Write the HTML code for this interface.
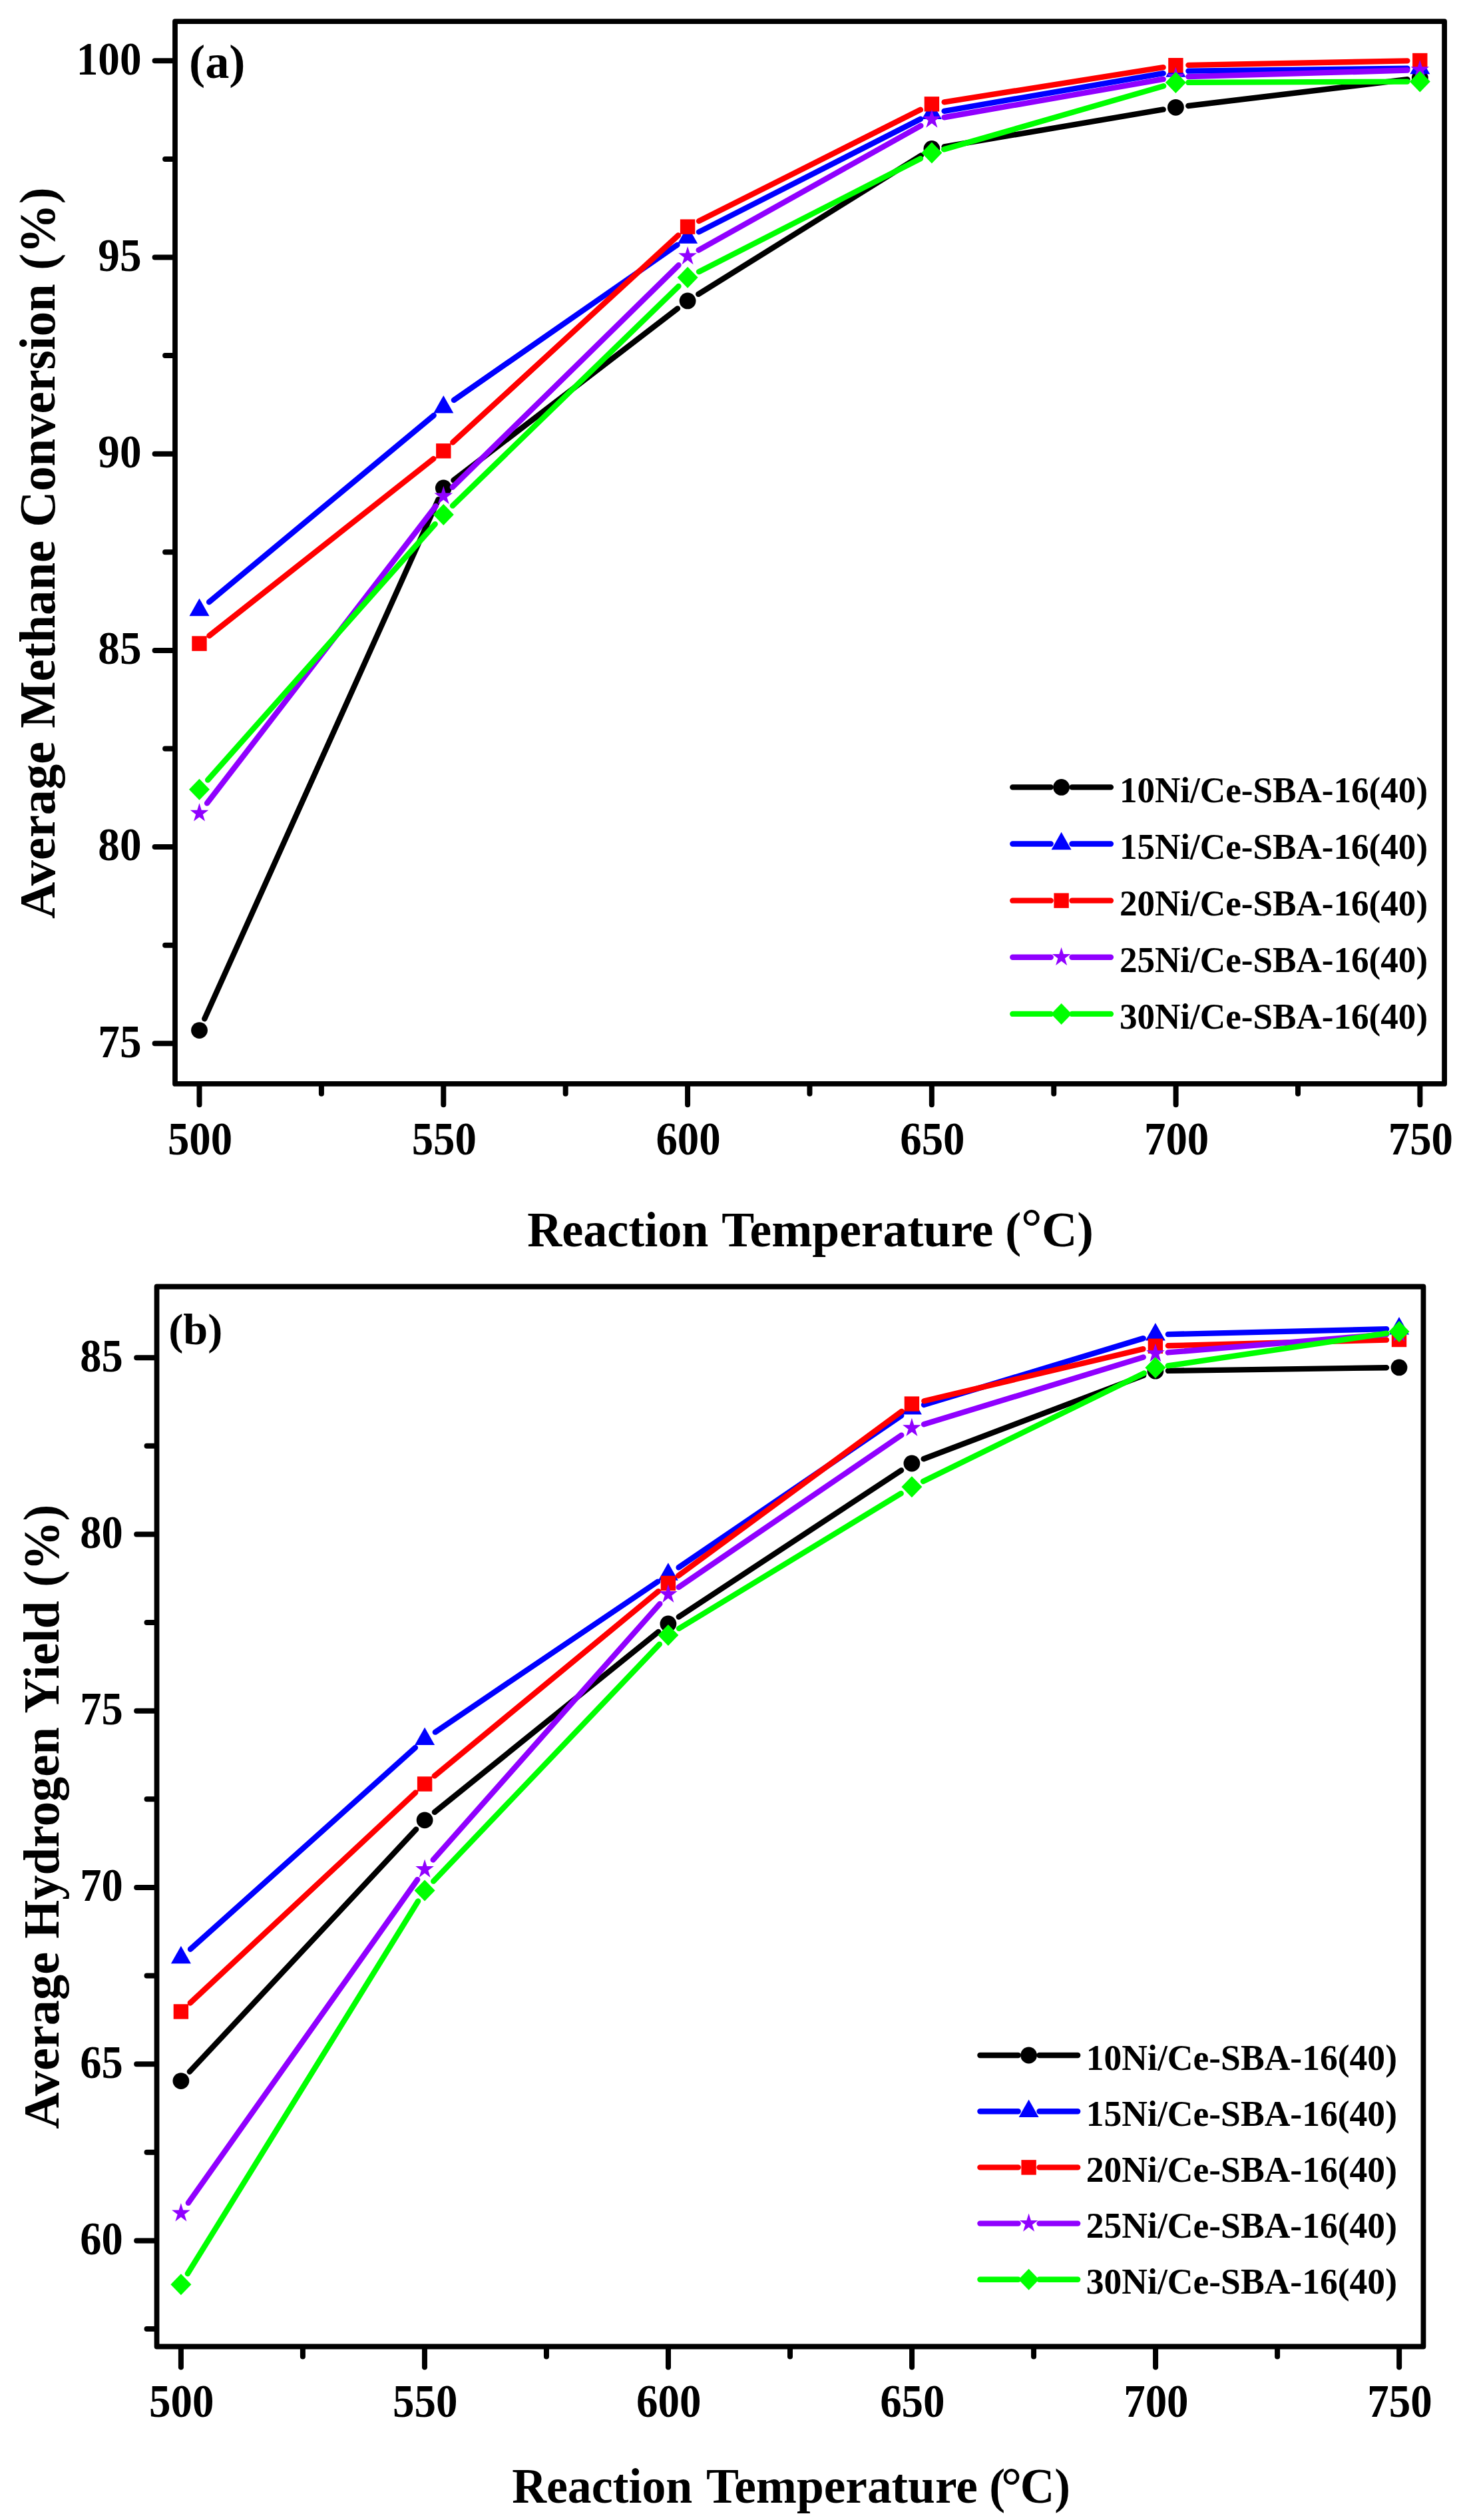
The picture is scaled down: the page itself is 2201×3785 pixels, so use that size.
<!DOCTYPE html>
<html lang="en">
<head>
<meta charset="utf-8">
<title>Average methane conversion and hydrogen yield vs reaction temperature</title>
<style>
html,body{margin:0;padding:0;background:#fff;}
body{width:2201px;height:3785px;overflow:hidden;}
svg{display:block;}
svg text{font-family:"Liberation Serif", "Times New Roman", serif;font-weight:bold;fill:#000;}
</style>
</head>
<body>
<svg width="2201" height="3785" viewBox="0 0 2201 3785">
<rect x="0" y="0" width="2201" height="3785" fill="#ffffff"/>
<g>
<path d="M307.3 1530.27L658.5 750.23M681.38 721.35L1018.02 463.45M1049.23 441.86L1383.77 233.54M1418.63 220.32L1747.67 164.48M1785.26 159.02L2114.44 119.28" fill="none" stroke="#000000" stroke-width="8.4" stroke-linecap="round"/>
<circle cx="299.5" cy="1547.6" r="12.4" fill="#000000"/>
<circle cx="666.3" cy="732.9" r="12.4" fill="#000000"/>
<circle cx="1033.1" cy="451.9" r="12.4" fill="#000000"/>
<circle cx="1399.9" cy="223.5" r="12.4" fill="#000000"/>
<circle cx="1766.4" cy="161.3" r="12.4" fill="#000000"/>
<circle cx="2133.3" cy="117" r="12.4" fill="#000000"/>
<path d="M314.12 904.26L651.68 623.94M681.9 600.96L1017.5 367.84M1050.03 348.37L1382.97 178.73M1418.62 166.87L1747.68 110.13M1785.4 106.67L2114.3 102.63" fill="none" stroke="#0000ff" stroke-width="8.4" stroke-linecap="round"/>
<polygon points="299.5,898.7 314.5,925.2 284.5,925.2" fill="#0000ff"/>
<polygon points="666.3,594.1 681.3,620.6 651.3,620.6" fill="#0000ff"/>
<polygon points="1033.1,339.3 1048.1,365.8 1018.1,365.8" fill="#0000ff"/>
<polygon points="1399.9,152.4 1414.9,178.9 1384.9,178.9" fill="#0000ff"/>
<polygon points="1766.4,89.2 1781.4,115.7 1751.4,115.7" fill="#0000ff"/>
<polygon points="2133.3,84.7 2148.3,111.2 2118.3,111.2" fill="#0000ff"/>
<path d="M314.42 954.83L651.38 689.07M680.3 664.45L1019.1 353.45M1050.08 332.07L1382.92 164.83M1418.67 153.33L1747.63 101.17M1785.4 97.83L2114.3 91.37" fill="none" stroke="#ff0000" stroke-width="8.4" stroke-linecap="round"/>
<rect x="288.3" y="955.4" width="22.4" height="22.4" fill="#ff0000"/>
<rect x="655.1" y="666.1" width="22.4" height="22.4" fill="#ff0000"/>
<rect x="1021.9" y="329.4" width="22.4" height="22.4" fill="#ff0000"/>
<rect x="1388.7" y="145.1" width="22.4" height="22.4" fill="#ff0000"/>
<rect x="1755.2" y="87" width="22.4" height="22.4" fill="#ff0000"/>
<rect x="2122.1" y="79.8" width="22.4" height="22.4" fill="#ff0000"/>
<path d="M311.09 1206.35L654.71 760.15M679.86 731.79L1019.54 398.31M1049.68 375.71L1383.32 188.79M1418.62 176.24L1747.68 118.96M1785.39 115.15L2114.31 105.55" fill="none" stroke="#9000ff" stroke-width="8.4" stroke-linecap="round"/>
<polygon points="299.5,1206.3 302.76,1216.73 313.29,1216.73 304.77,1223.18 308.02,1233.62 299.5,1227.17 290.98,1233.62 294.23,1223.18 285.71,1216.73 296.24,1216.73" fill="#9000ff"/>
<polygon points="666.3,730 669.56,740.43 680.09,740.43 671.57,746.88 674.82,757.32 666.3,750.87 657.78,757.32 661.03,746.88 652.51,740.43 663.04,740.43" fill="#9000ff"/>
<polygon points="1033.1,369.9 1036.36,380.33 1046.89,380.33 1038.37,386.78 1041.62,397.22 1033.1,390.77 1024.58,397.22 1027.83,386.78 1019.31,380.33 1029.84,380.33" fill="#9000ff"/>
<polygon points="1399.9,164.4 1403.16,174.83 1413.69,174.83 1405.17,181.28 1408.42,191.72 1399.9,185.27 1391.38,191.72 1394.63,181.28 1386.11,174.83 1396.64,174.83" fill="#9000ff"/>
<polygon points="1766.4,100.6 1769.66,111.03 1780.19,111.03 1771.67,117.48 1774.92,127.92 1766.4,121.47 1757.88,127.92 1761.13,117.48 1752.61,111.03 1763.14,111.03" fill="#9000ff"/>
<polygon points="2133.3,89.9 2136.56,100.33 2147.09,100.33 2138.57,106.78 2141.82,117.22 2133.3,110.77 2124.78,117.22 2128.03,106.78 2119.51,100.33 2130.04,100.33" fill="#9000ff"/>
<path d="M312.12 1171.6L653.68 787.1M679.93 759.67L1019.47 430.03M1050.02 408.16L1382.98 238.24M1418.16 224.34L1748.14 129.26M1785.4 123.92L2114.3 122.58" fill="none" stroke="#00ff00" stroke-width="8.4" stroke-linecap="round"/>
<polygon points="299.5,1169.8 315,1185.8 299.5,1201.8 284,1185.8" fill="#00ff00"/>
<polygon points="666.3,756.9 681.8,772.9 666.3,788.9 650.8,772.9" fill="#00ff00"/>
<polygon points="1033.1,400.8 1048.6,416.8 1033.1,432.8 1017.6,416.8" fill="#00ff00"/>
<polygon points="1399.9,213.6 1415.4,229.6 1399.9,245.6 1384.4,229.6" fill="#00ff00"/>
<polygon points="1766.4,108 1781.9,124 1766.4,140 1750.9,124" fill="#00ff00"/>
<polygon points="2133.3,106.5 2148.8,122.5 2133.3,138.5 2117.8,122.5" fill="#00ff00"/>
<rect x="263" y="32.05" width="1907.1" height="1595.9" fill="none" stroke="#000" stroke-width="7.8" stroke-linejoin="round"/>
<path d="M262 91.3H232.6M262 386.5H232.6M262 681.7H232.6M262 976.9H232.6M262 1272.1H232.6M262 1567.3H232.6M262 238.9H248.1M262 534.1H248.1M262 829.3H248.1M262 1124.5H248.1M262 1419.7H248.1M299.5 1628.95V1659.15M666.28 1628.95V1659.15M1033.06 1628.95V1659.15M1399.84 1628.95V1659.15M1766.62 1628.95V1659.15M2133.4 1628.95V1659.15M482.9 1628.95V1642.85M849.68 1628.95V1642.85M1216.46 1628.95V1642.85M1583.24 1628.95V1642.85M1950.02 1628.95V1642.85" fill="none" stroke="#000" stroke-width="8" stroke-linecap="round"/>
<text x="212.55" y="111.6" font-size="69.5" text-anchor="end" textLength="97.8" lengthAdjust="spacingAndGlyphs">100</text>
<text x="212.55" y="406.8" font-size="69.5" text-anchor="end" textLength="65.2" lengthAdjust="spacingAndGlyphs">95</text>
<text x="212.55" y="702" font-size="69.5" text-anchor="end" textLength="65.2" lengthAdjust="spacingAndGlyphs">90</text>
<text x="212.55" y="997.2" font-size="69.5" text-anchor="end" textLength="65.2" lengthAdjust="spacingAndGlyphs">85</text>
<text x="212.55" y="1292.4" font-size="69.5" text-anchor="end" textLength="65.2" lengthAdjust="spacingAndGlyphs">80</text>
<text x="212.55" y="1587.6" font-size="69.5" text-anchor="end" textLength="65.2" lengthAdjust="spacingAndGlyphs">75</text>
<text x="300.5" y="1734.15" font-size="69.5" text-anchor="middle" textLength="97.2" lengthAdjust="spacingAndGlyphs">500</text>
<text x="667.28" y="1734.15" font-size="69.5" text-anchor="middle" textLength="97.2" lengthAdjust="spacingAndGlyphs">550</text>
<text x="1034.06" y="1734.15" font-size="69.5" text-anchor="middle" textLength="97.2" lengthAdjust="spacingAndGlyphs">600</text>
<text x="1400.84" y="1734.15" font-size="69.5" text-anchor="middle" textLength="97.2" lengthAdjust="spacingAndGlyphs">650</text>
<text x="1767.62" y="1734.15" font-size="69.5" text-anchor="middle" textLength="97.2" lengthAdjust="spacingAndGlyphs">700</text>
<text x="2134.4" y="1734.15" font-size="69.5" text-anchor="middle" textLength="97.2" lengthAdjust="spacingAndGlyphs">750</text>
<text x="284" y="117.1" font-size="72.5" text-anchor="start" textLength="84.5" lengthAdjust="spacingAndGlyphs">(a)</text>
<text x="792.13" y="1871.7" font-size="74" text-anchor="start" textLength="272.34" lengthAdjust="spacingAndGlyphs">Reaction</text>
<text x="1084.31" y="1871.7" font-size="74" text-anchor="start" textLength="408.02" lengthAdjust="spacingAndGlyphs">Temperature</text>
<text x="1510.29" y="1871.7" font-size="74" text-anchor="start" textLength="23.92" lengthAdjust="spacingAndGlyphs">(</text>
<text x="1534" y="1869.1" font-size="79" text-anchor="start" font-weight="normal">°</text>
<text x="1565.01" y="1871.7" font-size="74" text-anchor="start" textLength="77.98" lengthAdjust="spacingAndGlyphs">C)</text>
<text transform="translate(82.1 1379.89) rotate(-90)" font-size="77" textLength="266.2" lengthAdjust="spacingAndGlyphs">Average</text>
<text transform="translate(82.1 1093.87) rotate(-90)" font-size="77" textLength="281.94" lengthAdjust="spacingAndGlyphs">Methane</text>
<text transform="translate(82.1 791.78) rotate(-90)" font-size="77" textLength="365.41" lengthAdjust="spacingAndGlyphs">Conversion</text>
<text transform="translate(82.1 405.71) rotate(-90)" font-size="77" textLength="124.3" lengthAdjust="spacingAndGlyphs">(%)</text>
<path d="M1521.3 1182.4H1578.7M1610.5 1182.4H1668.9" fill="none" stroke="#000000" stroke-width="8.4" stroke-linecap="round"/>
<circle cx="1594.6" cy="1182.4" r="12.4" fill="#000000"/>
<text x="1681.9" y="1205.2" font-size="55.8" text-anchor="start" textLength="463.2" lengthAdjust="spacingAndGlyphs">10Ni/Ce-SBA-16(40)</text>
<path d="M1521.3 1267.53H1578.7M1610.5 1267.53H1668.9" fill="none" stroke="#0000ff" stroke-width="8.4" stroke-linecap="round"/>
<polygon points="1594.6,1249.83 1609.6,1276.33 1579.6,1276.33" fill="#0000ff"/>
<text x="1681.9" y="1290.08" font-size="55.8" text-anchor="start" textLength="463.2" lengthAdjust="spacingAndGlyphs">15Ni/Ce-SBA-16(40)</text>
<path d="M1521.3 1352.66H1578.7M1610.5 1352.66H1668.9" fill="none" stroke="#ff0000" stroke-width="8.4" stroke-linecap="round"/>
<rect x="1583.4" y="1341.46" width="22.4" height="22.4" fill="#ff0000"/>
<text x="1681.9" y="1374.96" font-size="55.8" text-anchor="start" textLength="463.2" lengthAdjust="spacingAndGlyphs">20Ni/Ce-SBA-16(40)</text>
<path d="M1521.3 1437.79H1578.7M1610.5 1437.79H1668.9" fill="none" stroke="#9000ff" stroke-width="8.4" stroke-linecap="round"/>
<polygon points="1594.6,1422.69 1597.86,1433.12 1608.39,1433.12 1599.87,1439.57 1603.12,1450.01 1594.6,1443.56 1586.08,1450.01 1589.33,1439.57 1580.81,1433.12 1591.34,1433.12" fill="#9000ff"/>
<text x="1681.9" y="1459.84" font-size="55.8" text-anchor="start" textLength="463.2" lengthAdjust="spacingAndGlyphs">25Ni/Ce-SBA-16(40)</text>
<path d="M1521.3 1522.92H1578.7M1610.5 1522.92H1668.9" fill="none" stroke="#00ff00" stroke-width="8.4" stroke-linecap="round"/>
<polygon points="1594.6,1506.92 1610.1,1522.92 1594.6,1538.92 1579.1,1522.92" fill="#00ff00"/>
<text x="1681.9" y="1544.72" font-size="55.8" text-anchor="start" textLength="463.2" lengthAdjust="spacingAndGlyphs">30Ni/Ce-SBA-16(40)</text>
</g>
<g>
<path d="M284.87 3111.72L625.13 2747.68M652.89 2721.88L989.11 2450.92M1019.77 2428.55L1354.03 2208.45M1387.67 2191.26L1718.13 2065.94M1754.9 2058.92L2083 2054.18" fill="none" stroke="#000000" stroke-width="8.4" stroke-linecap="round"/>
<circle cx="271.9" cy="3125.6" r="12.4" fill="#000000"/>
<circle cx="638.1" cy="2733.8" r="12.4" fill="#000000"/>
<circle cx="1003.9" cy="2439" r="12.4" fill="#000000"/>
<circle cx="1369.9" cy="2198" r="12.4" fill="#000000"/>
<circle cx="1735.9" cy="2059.2" r="12.4" fill="#000000"/>
<circle cx="2102" cy="2053.9" r="12.4" fill="#000000"/>
<path d="M286.05 2927.72L623.95 2624.98M653.84 2601.66L988.16 2375.64M1019.6 2354.3L1354.2 2126.3M1388.08 2110.09L1717.72 2010.11M1754.89 2004.14L2083.01 1996.16" fill="none" stroke="#0000ff" stroke-width="8.4" stroke-linecap="round"/>
<polygon points="271.9,2922.7 286.9,2949.2 256.9,2949.2" fill="#0000ff"/>
<polygon points="638.1,2594.6 653.1,2621.1 623.1,2621.1" fill="#0000ff"/>
<polygon points="1003.9,2347.3 1018.9,2373.8 988.9,2373.8" fill="#0000ff"/>
<polygon points="1369.9,2097.9 1384.9,2124.4 1354.9,2124.4" fill="#0000ff"/>
<polygon points="1735.9,1986.9 1750.9,2013.4 1720.9,2013.4" fill="#0000ff"/>
<polygon points="2102,1978 2117,2004.5 2087,2004.5" fill="#0000ff"/>
<path d="M285.79 3008.43L624.21 2692.47M652.76 2667.42L989.24 2390.08M1019.2 2366.74L1354.6 2119.86M1388.39 2104.22L1717.41 2026.18M1754.89 2021.29L2083.01 2012.51" fill="none" stroke="#ff0000" stroke-width="8.4" stroke-linecap="round"/>
<rect x="260.7" y="3010.2" width="22.4" height="22.4" fill="#ff0000"/>
<rect x="626.9" y="2668.3" width="22.4" height="22.4" fill="#ff0000"/>
<rect x="992.7" y="2366.8" width="22.4" height="22.4" fill="#ff0000"/>
<rect x="1358.7" y="2097.4" width="22.4" height="22.4" fill="#ff0000"/>
<rect x="1724.7" y="2010.6" width="22.4" height="22.4" fill="#ff0000"/>
<rect x="2090.8" y="2000.8" width="22.4" height="22.4" fill="#ff0000"/>
<path d="M282.89 3308.7L627.11 2823.2M650.7 2793.48L991.3 2408.92M1019.59 2383.99L1354.21 2155.61M1388.07 2139.34L1717.73 2038.56M1754.83 2031.43L2083.07 2004.17" fill="none" stroke="#9000ff" stroke-width="8.4" stroke-linecap="round"/>
<polygon points="271.9,3309.1 275.16,3319.53 285.69,3319.53 277.17,3325.98 280.42,3336.42 271.9,3329.97 263.38,3336.42 266.63,3325.98 258.11,3319.53 268.64,3319.53" fill="#9000ff"/>
<polygon points="638.1,2792.6 641.36,2803.03 651.89,2803.03 643.37,2809.48 646.62,2819.92 638.1,2813.47 629.58,2819.92 632.83,2809.48 624.31,2803.03 634.84,2803.03" fill="#9000ff"/>
<polygon points="1003.9,2379.6 1007.16,2390.03 1017.69,2390.03 1009.17,2396.48 1012.42,2406.92 1003.9,2400.47 995.38,2406.92 998.63,2396.48 990.11,2390.03 1000.64,2390.03" fill="#9000ff"/>
<polygon points="1369.9,2129.8 1373.16,2140.23 1383.69,2140.23 1375.17,2146.68 1378.42,2157.12 1369.9,2150.67 1361.38,2157.12 1364.63,2146.68 1356.11,2140.23 1366.64,2140.23" fill="#9000ff"/>
<polygon points="1735.9,2017.9 1739.16,2028.33 1749.69,2028.33 1741.17,2034.78 1744.42,2045.22 1735.9,2038.77 1727.38,2045.22 1730.63,2034.78 1722.11,2028.33 1732.64,2028.33" fill="#9000ff"/>
<polygon points="2102,1987.5 2105.26,1997.93 2115.79,1997.93 2107.27,2004.38 2110.52,2014.82 2102,2008.37 2093.48,2014.82 2096.73,2004.38 2088.21,1997.93 2098.74,1997.93" fill="#9000ff"/>
<path d="M281.9 3415.04L628.1 2855.56M651.21 2825.65L990.79 2469.65M1020.13 2446.03L1353.67 2243.17M1386.97 2224.95L1718.83 2062.55M1754.69 2051.41L2083.21 2002.69" fill="none" stroke="#00ff00" stroke-width="8.4" stroke-linecap="round"/>
<polygon points="271.9,3415.2 287.4,3431.2 271.9,3447.2 256.4,3431.2" fill="#00ff00"/>
<polygon points="638.1,2823.4 653.6,2839.4 638.1,2855.4 622.6,2839.4" fill="#00ff00"/>
<polygon points="1003.9,2439.9 1019.4,2455.9 1003.9,2471.9 988.4,2455.9" fill="#00ff00"/>
<polygon points="1369.9,2217.3 1385.4,2233.3 1369.9,2249.3 1354.4,2233.3" fill="#00ff00"/>
<polygon points="1735.9,2038.2 1751.4,2054.2 1735.9,2070.2 1720.4,2054.2" fill="#00ff00"/>
<polygon points="2102,1983.9 2117.5,1999.9 2102,2015.9 2086.5,1999.9" fill="#00ff00"/>
<rect x="235.55" y="1932.5" width="1902.9" height="1592" fill="none" stroke="#000" stroke-width="7.8" stroke-linejoin="round"/>
<path d="M234.55 2039.2H205.15M234.55 2304.46H205.15M234.55 2569.72H205.15M234.55 2834.98H205.15M234.55 3100.24H205.15M234.55 3365.5H205.15M234.55 2171.8H220.55M234.55 2437.06H220.55M234.55 2702.32H220.55M234.55 2967.58H220.55M234.55 3232.84H220.55M234.55 3498.1H220.55M271.9 3525.5V3555.4M637.95 3525.5V3555.4M1004 3525.5V3555.4M1370.05 3525.5V3555.4M1736.1 3525.5V3555.4M2102.15 3525.5V3555.4M454.9 3525.5V3539.5M820.95 3525.5V3539.5M1187 3525.5V3539.5M1553.05 3525.5V3539.5M1919.1 3525.5V3539.5" fill="none" stroke="#000" stroke-width="8" stroke-linecap="round"/>
<text x="184.75" y="2059.5" font-size="69.5" text-anchor="end" textLength="64.5" lengthAdjust="spacingAndGlyphs">85</text>
<text x="184.75" y="2324.76" font-size="69.5" text-anchor="end" textLength="64.5" lengthAdjust="spacingAndGlyphs">80</text>
<text x="184.75" y="2590.02" font-size="69.5" text-anchor="end" textLength="64.5" lengthAdjust="spacingAndGlyphs">75</text>
<text x="184.75" y="2855.28" font-size="69.5" text-anchor="end" textLength="64.5" lengthAdjust="spacingAndGlyphs">70</text>
<text x="184.75" y="3120.54" font-size="69.5" text-anchor="end" textLength="64.5" lengthAdjust="spacingAndGlyphs">65</text>
<text x="184.75" y="3385.8" font-size="69.5" text-anchor="end" textLength="64.5" lengthAdjust="spacingAndGlyphs">60</text>
<text x="272.7" y="3630" font-size="69.5" text-anchor="middle" textLength="97.4" lengthAdjust="spacingAndGlyphs">500</text>
<text x="638.75" y="3630" font-size="69.5" text-anchor="middle" textLength="97.4" lengthAdjust="spacingAndGlyphs">550</text>
<text x="1004.8" y="3630" font-size="69.5" text-anchor="middle" textLength="97.4" lengthAdjust="spacingAndGlyphs">600</text>
<text x="1370.85" y="3630" font-size="69.5" text-anchor="middle" textLength="97.4" lengthAdjust="spacingAndGlyphs">650</text>
<text x="1736.9" y="3630" font-size="69.5" text-anchor="middle" textLength="97.4" lengthAdjust="spacingAndGlyphs">700</text>
<text x="2102.95" y="3630" font-size="69.5" text-anchor="middle" textLength="97.4" lengthAdjust="spacingAndGlyphs">750</text>
<text x="253.2" y="2019.4" font-size="66" text-anchor="start" textLength="81.1" lengthAdjust="spacingAndGlyphs">(b)</text>
<text x="769.13" y="3759.3" font-size="74" text-anchor="start" textLength="271.13" lengthAdjust="spacingAndGlyphs">Reaction</text>
<text x="1061.01" y="3759.3" font-size="74" text-anchor="start" textLength="407.72" lengthAdjust="spacingAndGlyphs">Temperature</text>
<text x="1486.3" y="3759.3" font-size="74" text-anchor="start" textLength="23.9" lengthAdjust="spacingAndGlyphs">(</text>
<text x="1504.1" y="3760.4" font-size="78" text-anchor="start">°</text>
<text x="1532.7" y="3759.3" font-size="74" text-anchor="start" textLength="75.2" lengthAdjust="spacingAndGlyphs">C)</text>
<text transform="translate(88 3197.69) rotate(-90)" font-size="77" textLength="265.9" lengthAdjust="spacingAndGlyphs">Average</text>
<text transform="translate(88 2911.77) rotate(-90)" font-size="77" textLength="317.65" lengthAdjust="spacingAndGlyphs">Hydrogen</text>
<text transform="translate(88 2573.58) rotate(-90)" font-size="77" textLength="169.12" lengthAdjust="spacingAndGlyphs">Yield</text>
<text transform="translate(88 2383.7) rotate(-90)" font-size="77" textLength="123.99" lengthAdjust="spacingAndGlyphs">(%)</text>
<path d="M1472.4 3087H1529.7M1561.5 3087H1619.2" fill="none" stroke="#000000" stroke-width="8.4" stroke-linecap="round"/>
<circle cx="1545.6" cy="3087" r="12.4" fill="#000000"/>
<text x="1631.8" y="3109" font-size="55.8" text-anchor="start" textLength="467.2" lengthAdjust="spacingAndGlyphs">10Ni/Ce-SBA-16(40)</text>
<path d="M1472.4 3171.2H1529.7M1561.5 3171.2H1619.2" fill="none" stroke="#0000ff" stroke-width="8.4" stroke-linecap="round"/>
<polygon points="1545.6,3153.5 1560.6,3180 1530.6,3180" fill="#0000ff"/>
<text x="1631.8" y="3193" font-size="55.8" text-anchor="start" textLength="467.2" lengthAdjust="spacingAndGlyphs">15Ni/Ce-SBA-16(40)</text>
<path d="M1472.4 3255.4H1529.7M1561.5 3255.4H1619.2" fill="none" stroke="#ff0000" stroke-width="8.4" stroke-linecap="round"/>
<rect x="1534.4" y="3244.2" width="22.4" height="22.4" fill="#ff0000"/>
<text x="1631.8" y="3277" font-size="55.8" text-anchor="start" textLength="467.2" lengthAdjust="spacingAndGlyphs">20Ni/Ce-SBA-16(40)</text>
<path d="M1472.4 3339.6H1529.7M1561.5 3339.6H1619.2" fill="none" stroke="#9000ff" stroke-width="8.4" stroke-linecap="round"/>
<polygon points="1545.6,3324.5 1548.86,3334.93 1559.39,3334.93 1550.87,3341.38 1554.12,3351.82 1545.6,3345.37 1537.08,3351.82 1540.33,3341.38 1531.81,3334.93 1542.34,3334.93" fill="#9000ff"/>
<text x="1631.8" y="3361" font-size="55.8" text-anchor="start" textLength="467.2" lengthAdjust="spacingAndGlyphs">25Ni/Ce-SBA-16(40)</text>
<path d="M1472.4 3423.8H1529.7M1561.5 3423.8H1619.2" fill="none" stroke="#00ff00" stroke-width="8.4" stroke-linecap="round"/>
<polygon points="1545.6,3407.8 1561.1,3423.8 1545.6,3439.8 1530.1,3423.8" fill="#00ff00"/>
<text x="1631.8" y="3445" font-size="55.8" text-anchor="start" textLength="467.2" lengthAdjust="spacingAndGlyphs">30Ni/Ce-SBA-16(40)</text>
</g>
</svg>
</body>
</html>
